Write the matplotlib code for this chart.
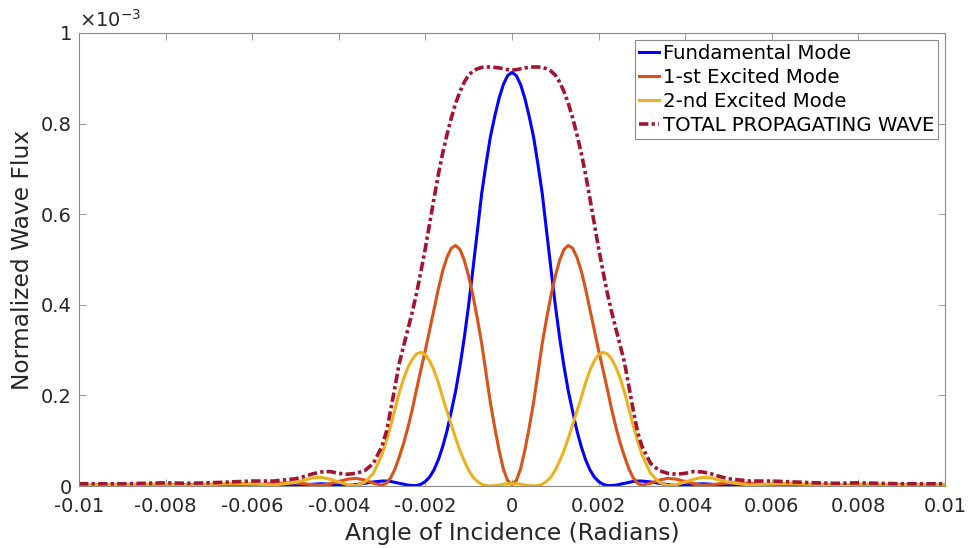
import matplotlib.pyplot as plt

# angle of incidence in milliradians
x_mrad = [-10, -9.5, -9, -8.5, -8, -7.5, -7, -6.5, -6, -5.5,
          -5.0, -4.8, -4.6, -4.4, -4.2, -4.0, -3.8, -3.6, -3.4, -3.2,
          -3.0, -2.9, -2.8, -2.7, -2.6, -2.5, -2.4, -2.3, -2.2, -2.1,
          -2.0, -1.9, -1.8, -1.7, -1.6, -1.5, -1.4, -1.3, -1.2, -1.1,
          -1.0, -0.9, -0.8, -0.7, -0.6, -0.5, -0.4, -0.3, -0.2, -0.1,
          0.0,
          0.1, 0.2, 0.3, 0.4, 0.5, 0.6, 0.7, 0.8, 0.9, 1.0,
          1.1, 1.2, 1.3, 1.4, 1.5, 1.6, 1.7, 1.8, 1.9, 2.0,
          2.1, 2.2, 2.3, 2.4, 2.5, 2.6, 2.7, 2.8, 2.9, 3.0,
          3.2, 3.4, 3.6, 3.8, 4.0, 4.2, 4.4, 4.6, 4.8, 5.0,
          5.5, 6, 6.5, 7, 7.5, 8, 8.5, 9, 9.5, 10]

# normalized flux, units of 1e-3
fundamental = [0.001, 0.001, 0.001, 0.001, 0.001, 0.001, 0.001, 0.001, 0.002, 0.002,
               0.001, 0.002, 0.004, 0.005, 0.004, 0.002, 0.001, 0.003, 0.006, 0.009,
               0.011, 0.011, 0.010, 0.008, 0.006, 0.004, 0.002, 0.001, 0.001, 0.004,
               0.010, 0.020, 0.036, 0.058, 0.087, 0.122, 0.165, 0.210, 0.265, 0.328,
               0.400, 0.480, 0.562, 0.645, 0.710, 0.770, 0.815, 0.855, 0.886, 0.906,
               0.913,
               0.906, 0.886, 0.855, 0.815, 0.770, 0.710, 0.645, 0.562, 0.480, 0.400,
               0.328, 0.265, 0.210, 0.165, 0.122, 0.087, 0.058, 0.036, 0.020, 0.010,
               0.004, 0.001, 0.001, 0.002, 0.004, 0.006, 0.008, 0.010, 0.011, 0.011,
               0.009, 0.006, 0.003, 0.001, 0.002, 0.004, 0.005, 0.004, 0.002, 0.001,
               0.002, 0.002, 0.001, 0.001, 0.001, 0.001, 0.001, 0.001, 0.001, 0.001]

first_excited = [0.002, 0.002, 0.003, 0.003, 0.002, 0.003, 0.004, 0.003, 0.002, 0.006,
                 0.007, 0.005, 0.003, 0.002, 0.005, 0.010, 0.015, 0.017, 0.013, 0.006,
                 0.002, 0.006, 0.018, 0.038, 0.065, 0.095, 0.130, 0.170, 0.215, 0.258,
                 0.300, 0.345, 0.390, 0.435, 0.475, 0.505, 0.525, 0.531, 0.522, 0.498,
                 0.463, 0.420, 0.370, 0.315, 0.250, 0.185, 0.130, 0.080, 0.038, 0.012,
                 0.003,
                 0.012, 0.038, 0.080, 0.130, 0.185, 0.250, 0.315, 0.370, 0.420, 0.463,
                 0.498, 0.522, 0.531, 0.525, 0.505, 0.475, 0.435, 0.390, 0.345, 0.300,
                 0.258, 0.215, 0.170, 0.130, 0.095, 0.065, 0.038, 0.018, 0.006, 0.002,
                 0.006, 0.013, 0.017, 0.015, 0.010, 0.005, 0.002, 0.003, 0.005, 0.007,
                 0.006, 0.002, 0.003, 0.004, 0.003, 0.002, 0.003, 0.003, 0.002, 0.002]

second_excited = [0.003, 0.003, 0.002, 0.004, 0.004, 0.002, 0.003, 0.006, 0.005, 0.002,
                  0.008, 0.013, 0.018, 0.019, 0.015, 0.009, 0.003, 0.001, 0.008, 0.028,
                  0.070, 0.100, 0.133, 0.170, 0.207, 0.238, 0.262, 0.280, 0.292, 0.295,
                  0.290, 0.276, 0.255, 0.228, 0.195, 0.165, 0.135, 0.105, 0.078, 0.055,
                  0.035, 0.020, 0.010, 0.004, 0.001, 0.000, 0.001, 0.002, 0.004, 0.005,
                  0.005,
                  0.005, 0.004, 0.002, 0.001, 0.000, 0.001, 0.004, 0.010, 0.020, 0.035,
                  0.055, 0.078, 0.105, 0.135, 0.165, 0.195, 0.228, 0.255, 0.276, 0.290,
                  0.295, 0.292, 0.280, 0.262, 0.238, 0.207, 0.170, 0.133, 0.100, 0.070,
                  0.028, 0.008, 0.001, 0.003, 0.009, 0.015, 0.019, 0.018, 0.013, 0.008,
                  0.002, 0.005, 0.006, 0.003, 0.002, 0.004, 0.004, 0.002, 0.003, 0.003]

total_wave = [0.005, 0.005, 0.005, 0.006, 0.007, 0.006, 0.007, 0.009, 0.011, 0.011,
              0.016, 0.021, 0.027, 0.031, 0.032, 0.028, 0.026, 0.028, 0.034, 0.050,
              0.088, 0.120, 0.168, 0.220, 0.272, 0.310, 0.347, 0.385, 0.427, 0.475,
              0.525, 0.580, 0.635, 0.688, 0.735, 0.776, 0.813, 0.845, 0.871, 0.892,
              0.907, 0.916, 0.921, 0.924, 0.925, 0.925, 0.924, 0.923, 0.921, 0.919,
              0.918,
              0.919, 0.921, 0.923, 0.924, 0.925, 0.925, 0.924, 0.921, 0.916, 0.907,
              0.892, 0.871, 0.845, 0.813, 0.776, 0.735, 0.688, 0.635, 0.580, 0.525,
              0.475, 0.427, 0.385, 0.347, 0.310, 0.272, 0.220, 0.168, 0.120, 0.088,
              0.050, 0.034, 0.028, 0.026, 0.028, 0.032, 0.031, 0.027, 0.021, 0.016,
              0.011, 0.011, 0.009, 0.007, 0.006, 0.007, 0.006, 0.005, 0.005, 0.005]

x_ticks = [-0.01, -0.008, -0.006, -0.004, -0.002, 0, 0.002, 0.004, 0.006, 0.008, 0.01]
x_labels = ['-0.01', '-0.008', '-0.006', '-0.004', '-0.002', '0',
            '0.002', '0.004', '0.006', '0.008', '0.01']
y_ticks = [0, 0.2, 0.4, 0.6, 0.8, 1]
y_labels = ['0', '0.2', '0.4', '0.6', '0.8', '1']

x = [v * 1e-3 for v in x_mrad]

def scaled(vals):
    return [v * 1e-3 for v in vals]

plt.rcParams['font.family'] = ['DejaVu Sans']
axis_grey = '#8a8a8a'
text_col = '#262626'

fig = plt.figure(figsize=(9.7, 5.48), dpi=100)
ax = fig.add_axes([0.0814, 0.1131, 0.8928, 0.8267])

ax.plot(x, scaled(fundamental), color='#0000ff', lw=2.2, label='Fundamental Mode')
ax.plot(x, scaled(first_excited), color='#d95319', lw=2.2, label='1-st Excited Mode')
ax.plot(x, scaled(second_excited), color='#edb120', lw=2.2, label='2-nd Excited Mode')
ax.plot(x, scaled(total_wave), color='#a2142f', lw=2.6,
        linestyle=(0, (2.6, 0.9, 0.9, 0.9)), label='TOTAL PROPAGATING WAVE')

ax.set_xlim(-0.01, 0.01)
ax.set_ylim(0, 1e-3)
ax.set_xticks(x_ticks)
ax.set_xticklabels(x_labels)
ax.set_yticks([t * 1e-3 for t in y_ticks])
ax.set_yticklabels(y_labels)

ax.tick_params(direction='in', length=5, width=0.6, color=axis_grey,
               labelsize=14, labelcolor=text_col, top=True, right=True)
ax.tick_params(axis='x', pad=8)
ax.tick_params(axis='y', pad=5)
for sp in ax.spines.values():
    sp.set_color(axis_grey)
    sp.set_linewidth(0.8)

ax.set_xlabel('Angle of Incidence (Radians)', fontsize=16.8, color=text_col, labelpad=4)
ax.set_ylabel('Normalized Wave Flux', fontsize=16.8, color=text_col, labelpad=5)
ax.text(0.0, 1.004, r'$\times$10$^{-3}$', transform=ax.transAxes,
        fontsize=14, color=text_col, ha='left', va='bottom')

leg = ax.legend(loc='upper right', fontsize=14.2, handlelength=1.0,
                handletextpad=0.2, borderpad=0.2, labelspacing=0.25,
                borderaxespad=0.35, fancybox=False, framealpha=1)
leg.get_frame().set_edgecolor(axis_grey)
leg.get_frame().set_linewidth(0.8)

fig.savefig('out.png', dpi=100)
